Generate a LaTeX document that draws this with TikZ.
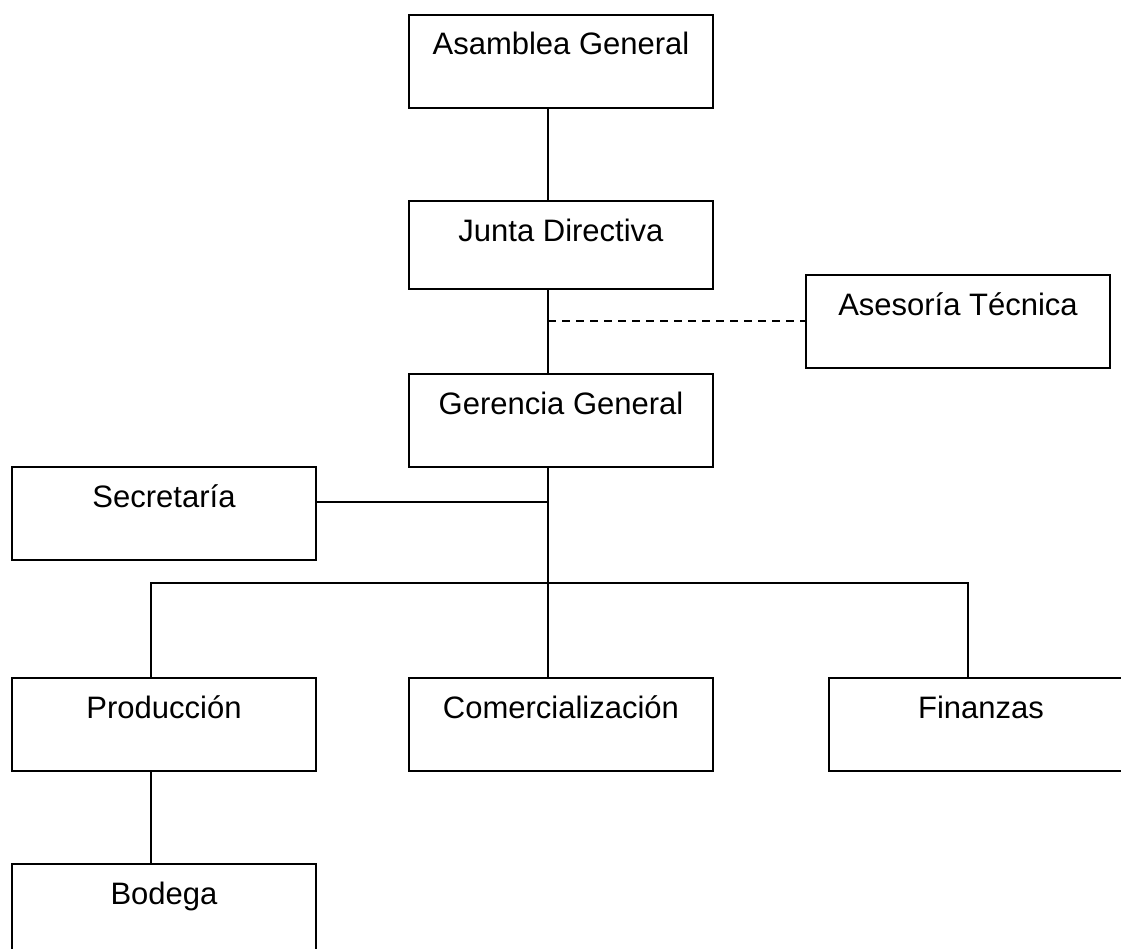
\documentclass[tikz,border=0pt]{standalone}
\usepackage{fontspec}
\setmainfont{Liberation Sans}
\usetikzlibrary{calc}

\tikzset{
  caja/.style={draw, line width=1.5pt, anchor=north west, inner xsep=0pt, inner ysep=0pt,
    minimum width=228pt, text height=30pt, text depth=39.75pt},
  linea/.style={line width=1.5pt}
}

\begin{document}
\begin{tikzpicture}[x=0.75pt,y=-0.75pt,font=\fontsize{23.25}{28}\selectfont]
  \useasboundingbox (0,0) rectangle (1121,949);
  \node[caja] (asamblea) at (408,14) {Asamblea General};
  \node[caja,text depth=36pt] (junta) at (408,200) {Junta Directiva};
  \node[caja] (asesoria) at (805,274) {Asesoría Técnica};
  \node[caja] (gerencia) at (408,373) {Gerencia General};
  \node[caja] (secretaria) at (11,466) {Secretaría};
  \foreach \nombre/\texto/\x in {produccion/Producción/11, comercializacion/Comercialización/408, finanzas/Finanzas/828} {
    \node[caja] (\nombre) at (\x,677) {\texto};
  }
  \node[caja] (bodega) at (11,863) {Bodega};

  \coordinate (eje) at (548,0);
  \coordinate (guion) at (548,321);
  \coordinate (sec) at (548,502);
  \coordinate (izq) at (151,583);
  \coordinate (der) at (968,583);

  \draw[linea] (asamblea.south -| eje) -- (junta.north -| eje);
  \draw[linea] (junta.south -| eje) -- (gerencia.north -| eje);
  \draw[linea,dash pattern=on 6pt off 4.5pt] (guion) -- (guion -| asesoria.west);
  \draw[linea] (gerencia.south -| eje) -- (comercializacion.north -| eje);
  \draw[linea] (sec) -- (sec -| secretaria.east);
  \draw[linea] (produccion.north -| izq) -- (izq) -- (der) -- (finanzas.north -| der);
  \draw[linea] (produccion.south -| izq) -- (bodega.north -| izq);
\end{tikzpicture}
\end{document}
